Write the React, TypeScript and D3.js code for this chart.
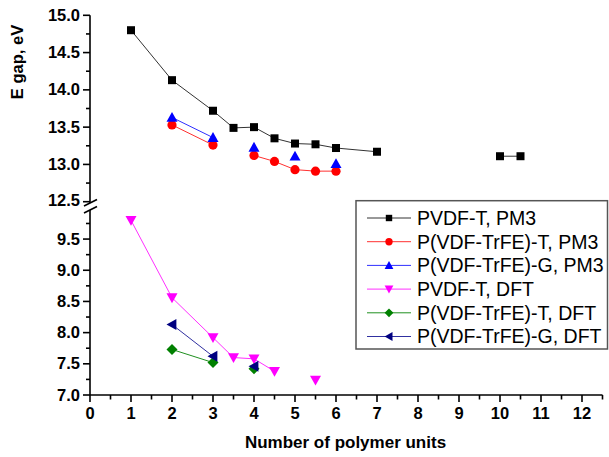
import React from "react";
import * as d3 from "d3";

const W = 609, H = 457;

// data: [x, y] with null for gaps
const pvdfTPM3: ([number, number] | null)[] = [[1, 14.8], [2, 14.13], [3, 13.72], [3.5, 13.49], [4, 13.5], [4.5, 13.35], [5, 13.28], [5.5, 13.27], [6, 13.22], [7, 13.17], null, [10, 13.11], [10.5, 13.11]];
const trfeTPM3: ([number, number] | null)[] = [[2, 13.53], [3, 13.26], null, [4, 13.12], [4.5, 13.04], [5, 12.93], [5.5, 12.91], [6, 12.91]];
const trfeGPM3: ([number, number] | null)[] = [[2, 13.63], [3, 13.36], null, [4, 13.23], null, [5, 13.11], null, [6, 13.01]];
const pvdfTDFT: ([number, number] | null)[] = [[1, 9.8], [2, 8.56], [3, 7.92], [3.5, 7.6], [4, 7.58], [4.5, 7.38], null, [5.5, 7.24]];
const trfeTDFT: ([number, number] | null)[] = [[2, 7.73], [3, 7.52], null, [4, 7.42]];
const trfeGDFT: ([number, number] | null)[] = [[2, 8.13], [3, 7.62], null, [4, 7.46]];

const xTicks = [0, 1, 2, 3, 4, 5, 6, 7, 8, 9, 10, 11, 12];
const upperTicks = [12.5, 13.0, 13.5, 14.0, 14.5, 15.0];
const lowerTicks = [7.0, 7.5, 8.0, 8.5, 9.0, 9.5];

const legendLabels = ["PVDF-T, PM3", "P(VDF-TrFE)-T, PM3", "P(VDF-TrFE)-G, PM3", "PVDF-T, DFT", "P(VDF-TrFE)-T, DFT", "P(VDF-TrFE)-G, DFT"];

const x = d3.scaleLinear().domain([0, 12.5]).range([90, 602.5]);
const yUp = d3.scaleLinear().domain([12.5, 15]).range([201.7, 15.3]);
const yLo = d3.scaleLinear().domain([7, 9.95]).range([395, 211]);

type Shape = "square" | "circle" | "up" | "down" | "diamond" | "left";

function Marker({ shape, cx, cy, color, s = 1 }: { shape: Shape; cx: number; cy: number; color: string; s?: number }) {
  if (shape === "square") { const h = 4 * s; return <rect x={cx - h} y={cy - h} width={2 * h} height={2 * h} fill={color} />; }
  if (shape === "circle") return <circle cx={cx} cy={cy} r={4.6 * s} fill={color} />;
  let pts: number[][] = [];
  if (shape === "up") { const a = 5.5 * s; pts = [[cx, cy - a], [cx + a, cy + a * 0.8], [cx - a, cy + a * 0.8]]; }
  if (shape === "down") { const a = 5.5 * s; pts = [[cx - a, cy - a * 0.8], [cx + a, cy - a * 0.8], [cx, cy + a]]; }
  if (shape === "left") { const a = 5.5 * s; pts = [[cx - a, cy], [cx + a * 0.8, cy - a], [cx + a * 0.8, cy + a]]; }
  if (shape === "diamond") { const a = 5.5 * s; pts = [[cx, cy - a], [cx + a, cy], [cx, cy + a], [cx - a, cy]]; }
  return <polygon points={pts.map(p => p.join(",")).join(" ")} fill={color} />;
}

const series: { data: ([number, number] | null)[]; color: string; line: string; shape: Shape; y: d3.ScaleLinear<number, number> }[] = [
  { data: pvdfTPM3, color: "#000000", line: "#333333", shape: "square", y: yUp },
  { data: trfeTPM3, color: "#ff0000", line: "#ff3030", shape: "circle", y: yUp },
  { data: trfeGPM3, color: "#0000ff", line: "#3030ff", shape: "up", y: yUp },
  { data: pvdfTDFT, color: "#ff00ff", line: "#ff30ff", shape: "down", y: yLo },
  { data: trfeTDFT, color: "#008000", line: "#209020", shape: "diamond", y: yLo },
  { data: trfeGDFT, color: "#000080", line: "#3030a0", shape: "left", y: yLo },
];

export default function App() {
  const font = "'Liberation Sans', Arial, sans-serif";
  const minorX = d3.range(0.5, 12.6, 1);
  const minorUp = [12.75, 13.25, 13.75, 14.25, 14.75];
  const minorLo = [7.25, 7.75, 8.25, 8.75, 9.25, 9.75];
  return (
    <svg width={W} height={H} style={{ position: "absolute", left: 0, top: 0, background: "#fff" }} fontFamily={font}>
      {/* axes */}
      <g stroke="#000" strokeWidth={1.6} fill="none">
        <line x1={90} y1={15.3} x2={90} y2={203} />
        <line x1={90} y1={210} x2={90} y2={395} />
        <line x1={90} y1={395} x2={602.5} y2={395} />
        <line x1={84} y1={206} x2={97} y2={199.5} />
        <line x1={84} y1={213} x2={97} y2={206.5} />
        {xTicks.map(t => <line key={"xt" + t} x1={x(t)} x2={x(t)} y1={395} y2={402} />)}
        {minorX.map(t => <line key={"xm" + t} x1={x(t)} x2={x(t)} y1={395} y2={399.5} />)}
        {upperTicks.map(t => <line key={"ut" + t} x1={83} x2={90} y1={yUp(t)} y2={yUp(t)} />)}
        {minorUp.map(t => <line key={"um" + t} x1={86} x2={90} y1={yUp(t)} y2={yUp(t)} />)}
        {lowerTicks.map(t => <line key={"lt" + t} x1={83} x2={90} y1={yLo(t)} y2={yLo(t)} />)}
        {minorLo.map(t => <line key={"lm" + t} x1={86} x2={90} y1={yLo(t)} y2={yLo(t)} />)}
      </g>
      <g fontSize={16.5} fontWeight="bold" fill="#000">
        {xTicks.map(t => <text key={"xl" + t} x={x(t)} y={419} textAnchor="middle">{t}</text>)}
        {upperTicks.filter(t => t !== 12.5).map(t => <text key={"ul" + t} x={80} y={yUp(t) + 5.5} textAnchor="end">{t.toFixed(1)}</text>)}
        <text x={80} y={yUp(12.5) + 4} textAnchor="end">12.5</text>
        {lowerTicks.map(t => <text key={"ll" + t} x={80} y={yLo(t) + 5.5} textAnchor="end">{t.toFixed(1)}</text>)}
      </g>
      <g fontWeight="bold" fill="#000">
        <text x={345.5} y={448} textAnchor="middle" fontSize={17}>Number of polymer units</text>
        <text transform="translate(23,62) rotate(-90)" textAnchor="middle" fontSize={16.5}>E gap, eV</text>
      </g>
      {/* series */}
      {series.map((s, i) => {
        const line = d3.line<[number, number] | null>().defined(d => d !== null).x(d => x(d![0])).y(d => s.y(d![1]));
        return (
          <g key={"s" + i}>
            <path d={line(s.data) || ""} fill="none" stroke={s.line} strokeWidth={1} />
            {s.data.filter(d => d !== null).map((d, j) => <Marker key={j} shape={s.shape} cx={x(d![0])} cy={s.y(d![1])} color={s.color} />)}
          </g>
        );
      })}
      {/* legend */}
      <rect x={356} y={200.7} width={251.5} height={148.3} fill="#fff" stroke="#555" strokeWidth={1.5} />
      {legendLabels.map((l, i) => {
        const cy = 218 + i * 23.7;
        const s = series[i];
        return (
          <g key={"lg" + i}>
            <line x1={367} x2={411} y1={cy} y2={cy} stroke={s.line} strokeWidth={1} />
            <Marker shape={s.shape} cx={389} cy={cy} color={s.color} s={0.8} />
            <text x={417} y={cy + 6.8} fontSize={19.5} fill="#000">{l}</text>
          </g>
        );
      })}
    </svg>
  );
}
